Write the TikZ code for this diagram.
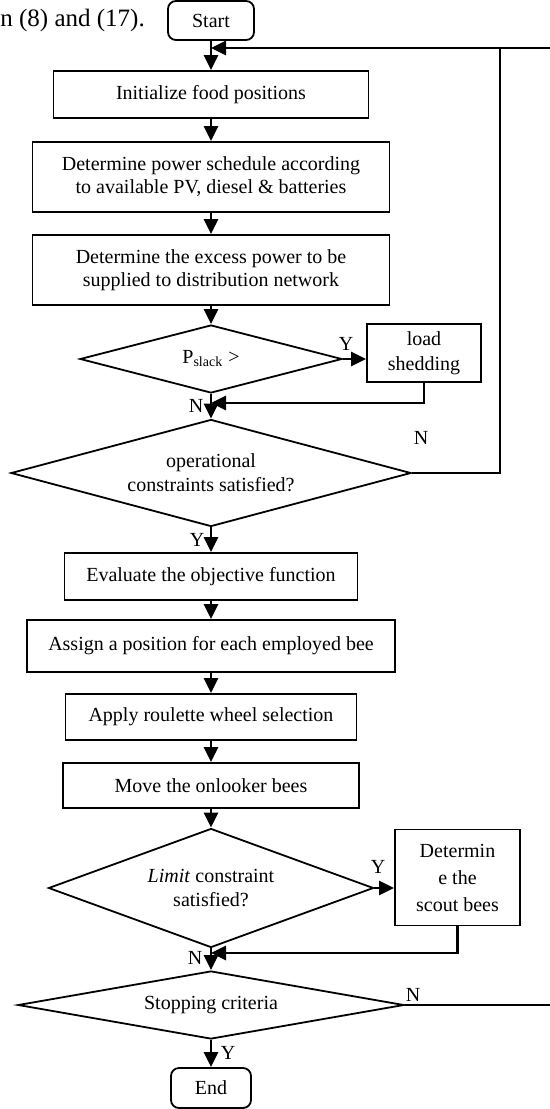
\documentclass[tikz,border=0pt]{standalone}
\usepackage{fontspec}
\setmainfont{Liberation Serif}
\usetikzlibrary{shapes.geometric,arrows.meta}

\begin{document}
\begin{tikzpicture}[x=0.5pt, y=-0.5pt]

\tikzset{
stepbox/.style={draw=black,line width=0.9pt,inner sep=0pt,align=center,font=\fontsize{10}{11.5}\selectfont},
endbox/.style={stepbox,rounded corners=4pt},
test/.style={diamond,draw=black,line width=0.9pt,inner sep=0pt,align=center,font=\fontsize{10}{12}\selectfont},
flow/.style={-{Triangle[length=7.5pt,width=7pt]},line width=1.4pt},
loopline/.style={line width=1pt},
yn/.style={inner sep=0pt,font=\fontsize{10}{12}\selectfont}
}

\useasboundingbox (0,0) rectangle (550,1109);

% Nodes
\node[anchor=base west,inner sep=0pt,font=\fontsize{12.5}{14}\selectfont] (prose) at (0,26) {n (8) and (17).};

\node[endbox,minimum width=43pt,minimum height=19.5pt] (start) at (211,20.5) {Start};
\node[stepbox,minimum width=157.5pt,minimum height=23.5pt] (init) at (211,94.5) {Initialize food positions};
\node[stepbox,minimum width=178.5pt,minimum height=35pt] (power) at (211,177) {Determine power schedule according\\to available PV, diesel \& batteries};
\node[stepbox,minimum width=178.5pt,minimum height=35pt] (excess) at (211,270) {Determine the excess power to be\\supplied to distribution network};

\node[test,minimum width=131pt,minimum height=34pt,shape aspect=3.85] (pslack) at (211,359) {P\textsubscript{slack} >};
\node[stepbox,minimum width=57pt,minimum height=29pt,font=\fontsize{10}{12.5}\selectfont] (shed) at (424,353) {load\\shedding};

\node[test,minimum width=200pt,minimum height=53.5pt,shape aspect=3.74] (oper) at (211,473) {operational\\constraints satisfied?};

\node[stepbox,minimum width=146.5pt,minimum height=23.5pt] (eval) at (211,576.5) {Evaluate the objective function};
\node[stepbox,minimum width=184pt,minimum height=26pt] (assign) at (211,646) {Assign a position for each employed bee};
\node[stepbox,minimum width=145.5pt,minimum height=23pt] (apply) at (211,717) {Apply roulette wheel selection};
\node[stepbox,minimum width=148pt,minimum height=22.5pt] (move) at (211,785.5) {Move the onlooker bees};

\node[test,minimum width=162.5pt,minimum height=59.5pt,shape aspect=2.73] (limit) at (211,888) {\textit{Limit} constraint\\satisfied?};
\node[stepbox,minimum width=62.5pt,minimum height=48pt,font=\fontsize{10}{13.5}\selectfont] (scout) at (457.5,877.5) {Determin\\e the\\scout bees};

\node[test,minimum width=193pt,minimum height=34pt,shape aspect=5.68] (stop) at (211,1005) {Stopping criteria};
\node[endbox,minimum width=40pt,minimum height=20pt] (end) at (211,1088) {End};

% Joins
\coordinate (topjoin) at (211,48);
\coordinate (shedjoin) at (211,403);
\coordinate (scoutjoin) at (211,953);
\coordinate (operturn) at (500,48);
\coordinate (stopturn) at (563,48);

% Arrows
\draw[flow] (start) -- (init);
\draw[flow] (init) -- (power);
\draw[flow] (power) -- (excess);
\draw[flow] (excess) -- (pslack);
\draw[flow] (pslack.east) -- (pslack.east -| shed.west);
\draw[flow] (shed.south) |- (shedjoin);
\draw[flow] (pslack) -- (oper);
\draw[loopline] (oper.east) -| (operturn);
\draw[flow] (oper) -- (eval);
\draw[flow] (eval) -- (assign);
\draw[flow] (assign) -- (apply);
\draw[flow] (apply) -- (move);
\draw[flow] (move) -- (limit);
\draw[flow] (limit.east) -- (limit.east -| scout.west);
\draw[flow] (scout.south) |- (scoutjoin);
\draw[flow] (limit) -- (stop);
\draw[flow] (stop) -- (end);
\draw[loopline] (stop.east) -| (stopturn);
\draw[flow] (stopturn) -- (topjoin);

% Labels
\node[yn] (ypslack) at (346,344) {Y};
\node[yn] (npslack) at (196,406) {N};
\node[yn] (noper) at (421,438) {N};
\node[yn] (yoper) at (197,540) {Y};
\node[yn] (ylimit) at (378,867) {Y};
\node[yn] (nlimit) at (195,958) {N};
\node[yn] (nstop) at (413,995) {N};
\node[yn] (ystop) at (228,1053) {Y};

\end{tikzpicture}
\end{document}
